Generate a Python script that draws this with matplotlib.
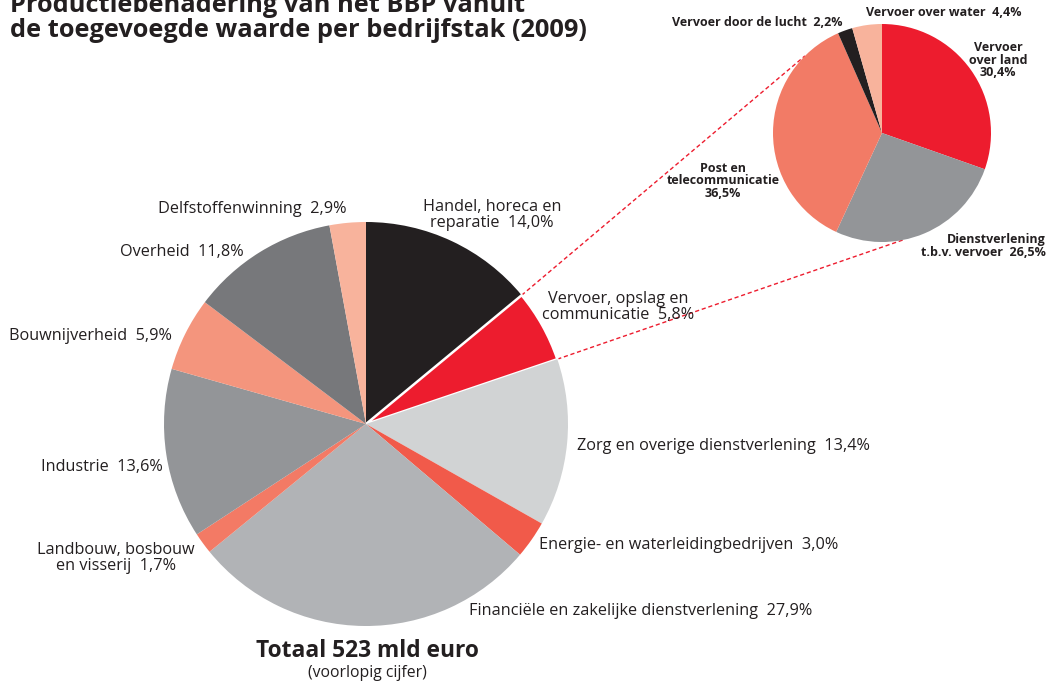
import numpy as np
import matplotlib.pyplot as plt

plt.rcParams['font.family'] = ['Open Sans', 'DejaVu Sans']

# main pie: share of value added per sector (2009), clockwise from top
sectors = ['Handel, horeca en\nreparatie  14,0%',
           'Vervoer, opslag en\ncommunicatie  5,8%',
           'Zorg en overige dienstverlening  13,4%',
           'Energie- en waterleidingbedrijven  3,0%',
           'Financiële en zakelijke dienstverlening  27,9%',
           'Landbouw, bosbouw\nen visserij  1,7%',
           'Industrie  13,6%',
           'Bouwnijverheid  5,9%',
           'Overheid  11,8%',
           'Delfstoffenwinning  2,9%']
shares = [14.0, 5.8, 13.4, 3.0, 27.9, 1.7, 13.6, 5.9, 11.8, 2.9]
colors = ['#231f20', '#ed1c2e', '#d1d3d4', '#f15a4a', '#b1b3b6',
          '#f37a65', '#939598', '#f4957d', '#77787b', '#f8b39c']

# detail pie: transport breakdown
transport = ['Vervoer\nover land\n30,4%',
             'Dienstverlening\nt.b.v. vervoer  26,5%',
             'Post en\ntelecommunicatie\n36,5%',
             'Vervoer door de lucht  2,2%',
             'Vervoer over water  4,4%']
t_shares = [30.4, 26.5, 36.5, 2.2, 4.4]
t_colors = ['#ed1c2e', '#939598', '#f27b66', '#231f20', '#f8b39c']

W, H = 1053, 683
fig = plt.figure(figsize=(W / 100, H / 100), dpi=100)
ax = fig.add_axes([0, 0, 1, 1])

c_main, r_main = (366, H - 424), 202
c_small, r_small = (882, H - 133), 109

w_main, _ = ax.pie(shares, colors=colors, startangle=90, counterclock=False,
                   center=c_main, radius=r_main, frame=True,
                   wedgeprops={'linewidth': 0})
w_main[1].set_edgecolor('white')
w_main[1].set_linewidth(1.8)
ax.pie(t_shares, colors=t_colors, startangle=90, counterclock=False,
       center=c_small, radius=r_small, frame=True,
       wedgeprops={'linewidth': 0})

# dashed connectors from the transport wedge to the detail pie
def on_circle(c, r, deg):
    return c[0] + r * np.cos(np.radians(deg)), c[1] + r * np.sin(np.radians(deg))

a1, a2 = w_main[1].theta2, w_main[1].theta1
for a_main, a_small in [(a1, 135), (a2, -79)]:
    x0, y0 = on_circle(c_main, r_main, a_main)
    x1, y1 = on_circle(c_small, r_small, a_small)
    ax.plot([x0, x1], [y0, y1], color='#ed1c2e', lw=1, ls=(0, (3, 2)), zorder=0)

ax.set_xlim(0, W)
ax.set_ylim(0, H)
ax.set_aspect('auto')
ax.axis('off')

fs = 11.7
lab = dict(fontsize=fs, color='#231f20', va='center', linespacing=0.95)
pos = [(492, 215, 'center'), (618, 307, 'center'), (577, 446, 'left'),
       (539, 545, 'left'), (469, 611, 'left'), (116, 558, 'center'),
       (163, 467, 'right'), (172, 336, 'right'), (244, 252, 'right'),
       (347, 209, 'right')]
for text, (x, y, ha) in zip(sectors, pos):
    ax.text(x, H - y, text, ha=ha, multialignment='center', **lab)

slab = dict(fontsize=9.0, fontweight='bold', color='#231f20', va='center',
            linespacing=0.95)
spos = [(998, 60, 'center'), (1046, 246, 'right'), (723, 181, 'center'),
        (843, 22, 'right'), (1022, 13, 'right')]
smult = ['center', 'right', 'center', 'right', 'right']
for text, (x, y, ha), m in zip(transport, spos, smult):
    ax.text(x, H - y, text, ha=ha, multialignment=m, **slab)

ax.text(10, H - 18, 'Productiebenadering van het BBP vanuit\n'
        'de toegevoegde waarde per bedrijfstak (2009)',
        fontsize=18.3, fontweight='bold', color='#231f20', ha='left',
        va='center', linespacing=0.98)

ax.text(367, H - 651, 'Totaal 523 mld euro', fontsize=16.4, fontweight='bold',
        color='#231f20', ha='center', va='center')
ax.text(367, H - 673, '(voorlopig cijfer)', fontsize=11.3, color='#231f20',
        ha='center', va='center')

fig.savefig('out.png', dpi=100)
